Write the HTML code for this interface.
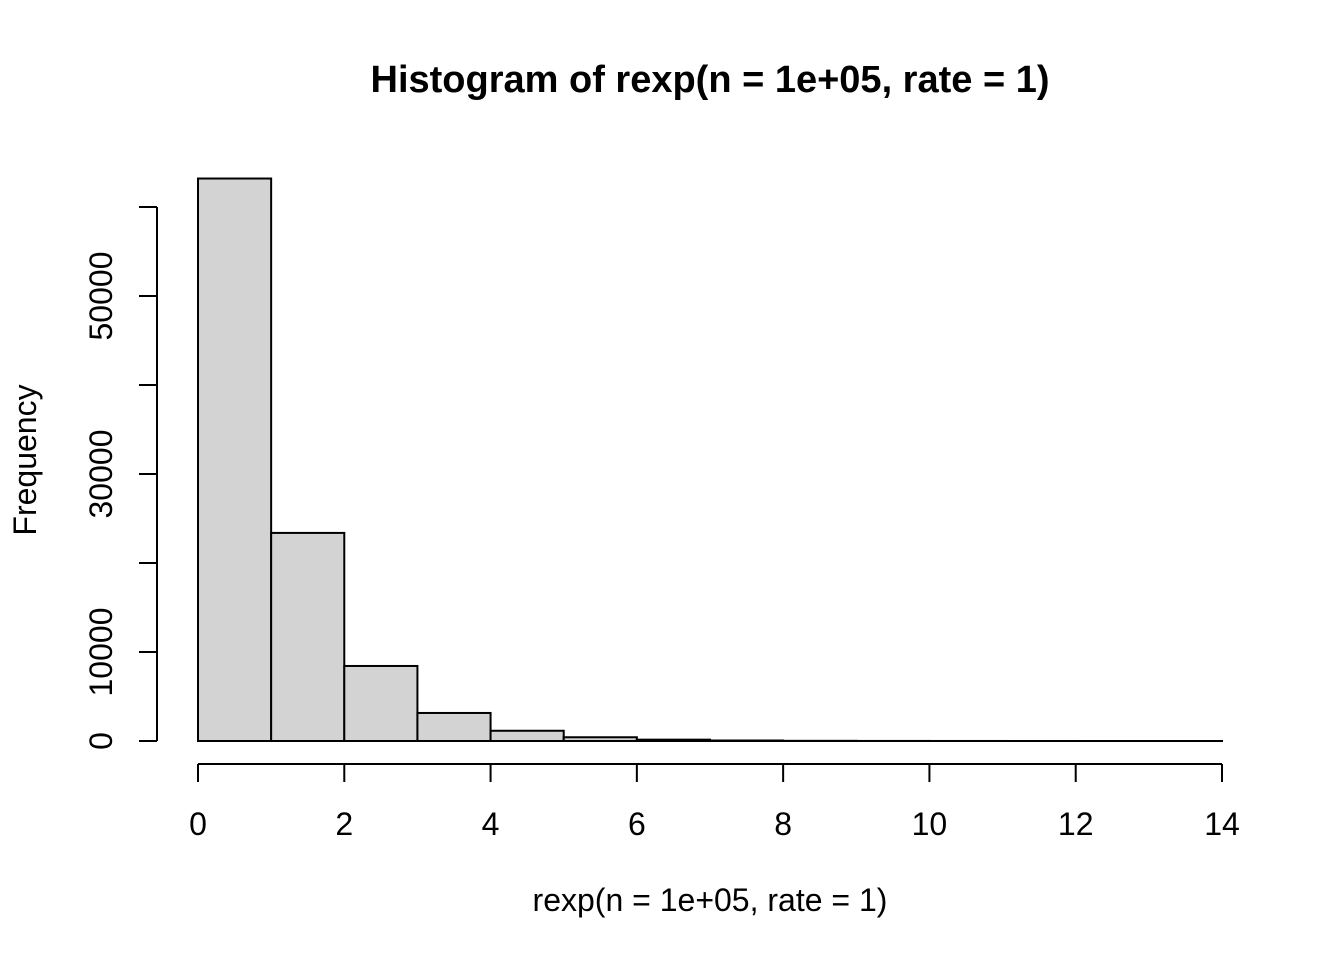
<!DOCTYPE html>
<html><head><meta charset="utf-8"><style>
body{margin:0;background:#fff;}
svg{display:block;font-family:"Liberation Sans",Arial,sans-serif;}
</style></head><body>
<svg id="chart" width="1344" height="960" viewBox="0 0 1344 960">
<text x="710" y="92" text-anchor="middle" font-size="38" font-weight="bold">Histogram of rexp(n = 1e+05, rate = 1)</text>
<text x="710" y="911" text-anchor="middle" font-size="32">rexp(n = 1e+05, rate = 1)</text>
<text transform="translate(36,460) rotate(-90)" text-anchor="middle" font-size="32">Frequency</text>
<g id="bars"></g><g id="xaxis"></g><g id="yaxis"></g>
</svg>
<script>
const binEdges=[0,1,2,3,4,5,6,7,8,9,10,11,12,13,14];
const counts=[63200,23380,8430,3150,1150,420,150,55,20,8,3,1,0,0];
const xTicks=[0,2,4,6,8,10,12,14];
const yTicks=[0,10000,20000,30000,40000,50000,60000];
const yLabelShown=["0","10000","","30000","","50000",""];
const NS="http://www.w3.org/2000/svg";
const xs=v=>198+v*(1222-198)/14;
const ys=v=>741-v*(741-296)/50000;
function mk(tag,attrs,parent){const e=document.createElementNS(NS,tag);for(const k in attrs)e.setAttribute(k,attrs[k]);parent.appendChild(e);return e;}
const bars=document.getElementById('bars'),xa=document.getElementById('xaxis'),ya=document.getElementById('yaxis');
counts.forEach((c,i)=>{
  const r=mk('rect',{x:xs(binEdges[i]),y:ys(c),width:xs(binEdges[i+1])-xs(binEdges[i]),height:Math.max(ys(0)-ys(c),0.01),fill:'#d3d3d3',stroke:'#000','stroke-width':2},bars);
  
  
});
const bl=mk('line',{x1:xs(binEdges[0]),x2:xs(binEdges[binEdges.length-1]),y1:ys(0),y2:ys(0),stroke:'#000','stroke-width':2},bars);


const xl=mk('line',{x1:xs(xTicks[0]),x2:xs(xTicks[xTicks.length-1]),y1:764,y2:764,stroke:'#000','stroke-width':2},xa);


xTicks.forEach(t=>{
  mk('line',{x1:xs(t),x2:xs(t),y1:764,y2:782,stroke:'#000','stroke-width':2},xa);
  const tx=mk('text',{x:xs(t),y:835,'text-anchor':'middle','font-size':32},xa);
  tx.textContent=t;
  
  
});
const yl=mk('line',{x1:157,x2:157,y1:ys(yTicks[0]),y2:ys(yTicks[yTicks.length-1]),stroke:'#000','stroke-width':2},ya);


yTicks.forEach((t,i)=>{
  mk('line',{x1:139,x2:157,y1:ys(t),y2:ys(t),stroke:'#000','stroke-width':2},ya);
  if(yLabelShown[i]){
    const tx=mk('text',{transform:`translate(112,${ys(t)}) rotate(-90)`,'text-anchor':'middle','font-size':32},ya);
    tx.textContent=yLabelShown[i];
    
    
  }
});
</script>
</body></html>
